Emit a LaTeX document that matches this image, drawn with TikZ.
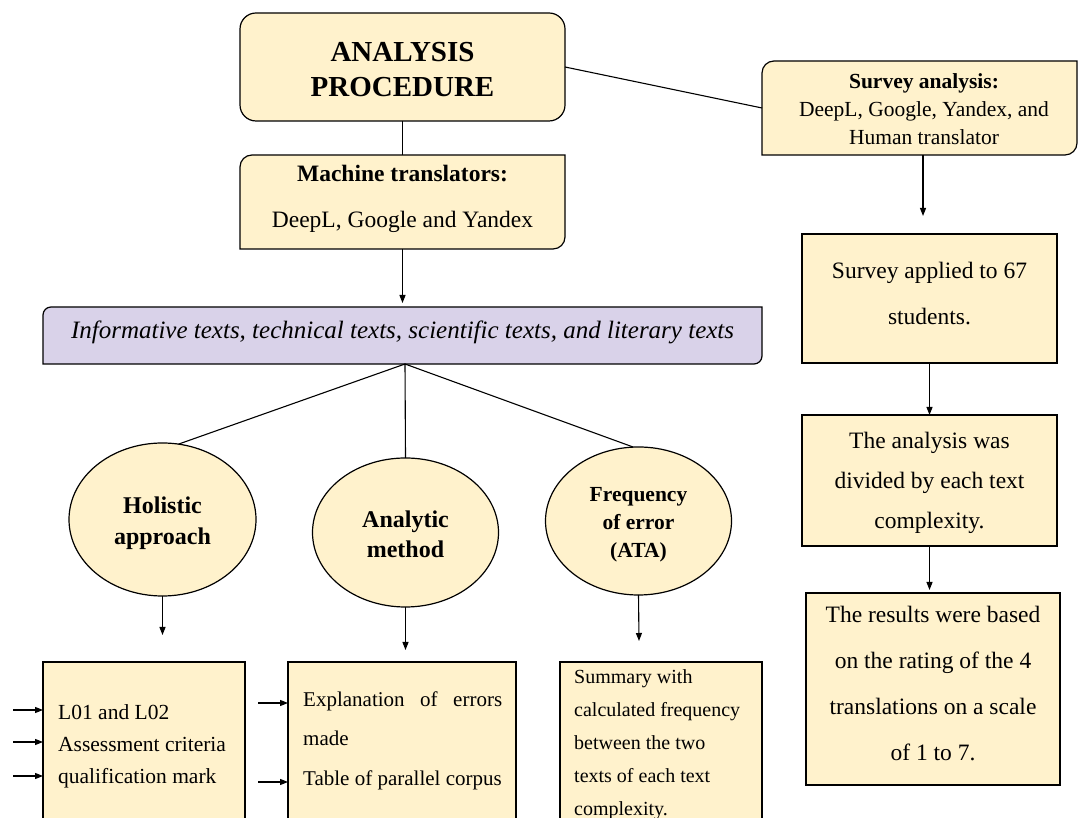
\documentclass[tikz,border=0pt]{standalone}
\usepackage{fontspec}
\setmainfont{Liberation Serif}
\usetikzlibrary{arrows.meta,shapes.geometric}
\definecolor{yel}{HTML}{FFF2CC}
\definecolor{lav}{HTML}{D9D2E9}
\newcommand\cutbox[3]{\draw[line width=1.2pt, fill=#3] (#1.south west) -- ([yshift=-#2]#1.north west) arc[start angle=180,end angle=90,radius=#2] -- (#1.north east) -- ([yshift=#2]#1.south east) arc[start angle=0,end angle=-90,radius=#2] -- cycle;}
\newcommand\fs[2]{\fontsize{#1pt}{#2pt}\selectfont}
\newcommand\low[2]{\raisebox{-#1}[\height][\depth]{\begin{tabular}{@{}c@{}}#2\end{tabular}}}
\begin{document}
\begin{tikzpicture}[x=1pt,y=1pt,
  yelbox/.style={draw, fill=yel, line width=1.2pt, inner sep=0pt, outer sep=0pt},
  frame/.style={inner sep=0pt, outer sep=0pt},
  txt/.style={align=center, inner sep=0pt},
  ln/.style={line width=1.1pt},
  arr/.style={line width=1.1pt, -{Triangle[length=8pt,width=6pt]}}]
\clip (0,0) rectangle (1078,818);
\fill[white] (0,0) rectangle (1078,818);

% top box
\node[yelbox, rounded corners=16pt, minimum width=325pt, minimum height=108pt, font=\fs{29}{34.5}\bfseries] (ap) at (402.5,751) {\low{5pt}{ANALYSIS\\PROCEDURE}};

% machine translators
\node[frame, minimum width=325pt, minimum height=94pt] (mt) at (402.5,616) {};
\cutbox{mt}{12pt}{yel}
\node[txt, font=\fs{23.5}{46}] (mtT) at (402.5,619) {\textbf{Machine translators:}\\DeepL, Google and Yandex};

% survey analysis
\node[frame, minimum width=315pt, minimum height=94pt] (sv) at (919.5,710) {};
\cutbox{sv}{12pt}{yel}
\node[txt, font=\fs{21.5}{28}] (svT) at (924,709) {\textbf{Survey analysis:}\\DeepL, Google, Yandex, and\\Human translator};

% text types
\node[frame, minimum width=719pt, minimum height=57pt] (pu) at (402.5,482.5) {};
\cutbox{pu}{8pt}{lav}
\node[txt, font=\fs{25}{30}\itshape] (puT) at (402.5,486) {Informative texts, technical texts, scientific texts, and literary texts};

% ellipses
\node[yelbox, ellipse, minimum width=187pt, minimum height=153pt, font=\fs{24}{31}\bfseries] (ho) at (162.5,298.5) {\low{3pt}{Holistic\\approach}};
\node[yelbox, ellipse, minimum width=186pt, minimum height=149pt, font=\fs{24}{30}\bfseries] (an) at (405.5,285.5) {\low{4pt}{Analytic\\method}};
\node[yelbox, ellipse, minimum width=186pt, minimum height=148pt, font=\fs{21.5}{28}\bfseries] (fr) at (638.5,297) {\low{3pt}{Frequency\\of error\\(ATA)}};

% right column
\node[yelbox, minimum width=255pt, minimum height=129pt] (s1) at (929.5,519.5) {};
\node[txt, font=\fs{23.5}{46}] (s1T) at (929.5,524) {Survey applied to 67\\students.};
\node[yelbox, minimum width=255pt, minimum height=131pt, font=\fs{23.5}{40}] (s2) at (929.5,337.5) {\low{0pt}{The analysis was\\divided by each text\\complexity.}};
\node[yelbox, minimum width=254pt, minimum height=192pt] (s3) at (933,129) {};
\node[txt, font=\fs{23.5}{46}] (s3T) at (933,134) {The results were based\\on the rating of the 4\\translations on a scale\\of 1 to 7.};

% bottom boxes
\node[yelbox, minimum width=202pt, minimum height=180pt] (b1) at (144,66) {};
\node[yelbox, minimum width=228pt, minimum height=180pt] (b2) at (402,66) {};
\node[yelbox, minimum width=202pt, minimum height=180pt] (b3) at (661,66) {};
\node[txt, align=left, anchor=west, font=\fs{21.5}{32}] (b1T) at (58,72) {L01 and L02\\Assessment criteria\\qualification mark};
\node[txt, align=left, anchor=west, font=\fs{21}{39.5}] (b2T) at (303,77.5) {\makebox[199pt][s]{Explanation of errors}\\made\\Table of parallel corpus};
\node[txt, align=left, anchor=west, font=\fs{20}{33}] (b3T) at (574,73.5) {Summary with\\calculated frequency\\between the two\\texts of each text\\complexity.};

% connectors
\draw[ln] (ap.south) -- (mt.north);
\draw[ln] (ap.east) -- (sv.west);
\draw[arr, shorten >=4pt] (mt.south) -- (pu.north);
\coordinate (puB) at ([xshift=2.5pt]pu.south);
\draw[ln] (puB) -- (ho.78);
\draw[ln] (puB) -- (an.north);
\draw[ln] (puB) -- (fr.94);
\coordinate (hoA) at (162.5,183);
\coordinate (anA) at (405.5,168);
\coordinate (frA) at (639,177);
\draw[arr] (ho.south) -- (hoA);
\draw[arr] (an.south) -- (anA);
\draw[arr] (fr.south) -- (frA);
\coordinate (svA) at (923,602);
\draw[arr] (sv.south -| svA) -- (svA);
\draw[arr] (s1.south) -- (s2.north);
\draw[arr, shorten >=3pt] (s2.south) -- (s2.south |- s3.north);
\coordinate (l1) at (13,108);
\coordinate (l2) at (13,76);
\coordinate (l3) at (13,42);
\draw[arr] (l1) -- (l1 -| b1.west);
\draw[arr] (l2) -- (l2 -| b1.west);
\draw[arr] (l3) -- (l3 -| b1.west);
\coordinate (m1) at (258,115);
\coordinate (m2) at (258,36);
\draw[arr] (m1) -- (m1 -| b2.west);
\draw[arr] (m2) -- (m2 -| b2.west);
\end{tikzpicture}
\end{document}
